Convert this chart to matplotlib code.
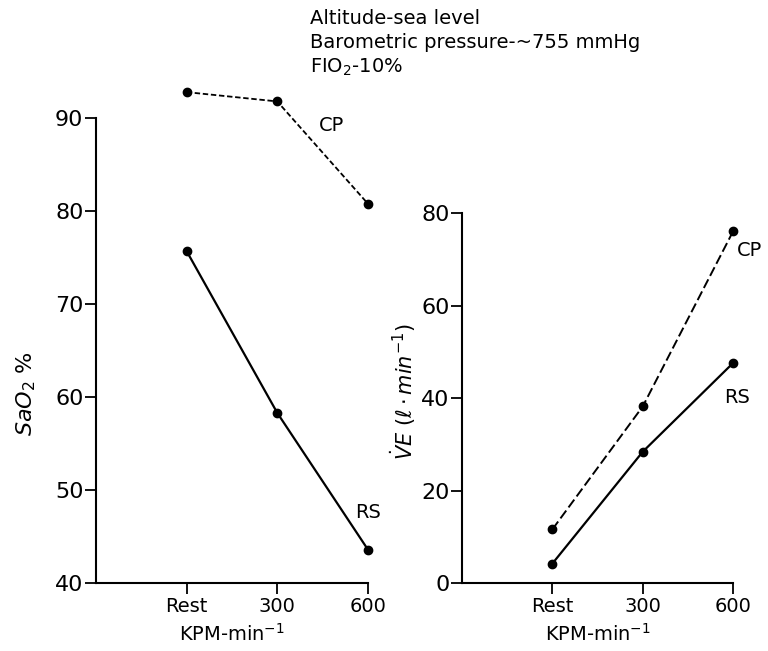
import matplotlib
matplotlib.use('Agg')
import matplotlib.pyplot as plt

plt.rcParams['font.family'] = ['DejaVu Sans']
plt.rcParams['mathtext.fontset'] = 'dejavusans'

levels = ['Rest', '300', '600']
sao2_cp = [92.8, 91.8, 80.8]
sao2_rs = [75.7, 58.3, 43.6]
ve_cp = [11.6, 38.2, 76.1]
ve_rs = [4.2, 28.4, 47.6]
xpos = [1, 2, 3]

fig = plt.figure(figsize=(7.68, 6.51), dpi=100)

ax1 = fig.add_axes([0.125, 0.1045, 0.354, 0.714])
ax2 = fig.add_axes([0.6016, 0.1045, 0.353, 0.568])

def style(ax, ylim, yticks):
    ax.set_xlim(0, 3)
    ax.set_ylim(*ylim)
    ax.set_yticks(yticks)
    ax.set_xticks(xpos)
    ax.set_xticklabels(levels, fontsize=14)
    ax.tick_params(axis='y', labelsize=16, length=8, width=1.3, direction='out', pad=1)
    ax.tick_params(axis='x', length=8, width=1.3, direction='out', pad=2)
    for s in ['top', 'right']:
        ax.spines[s].set_visible(False)
    for s in ['left', 'bottom']:
        ax.spines[s].set_linewidth(1.5)
    ax.set_xlabel(r'KPM-min$^{-1}$', fontsize=14, labelpad=5)

style(ax1, (40, 90), [40, 50, 60, 70, 80, 90])
style(ax2, (0, 80), [0, 20, 40, 60, 80])

ax1.plot(xpos, sao2_cp, color='black', lw=1.3, ls=(0, (3, 1.5)), marker='o', ms=6, clip_on=False)
ax1.plot(xpos, sao2_rs, color='black', lw=1.6, marker='o', ms=6, clip_on=False)
ax2.plot(xpos, ve_cp, color='black', lw=1.4, ls=(0, (5, 2)), marker='o', ms=6, clip_on=False)
ax2.plot(xpos, ve_rs, color='black', lw=1.6, marker='o', ms=6, clip_on=False)

ax1.text(2.6, 89.2, 'CP', fontsize=14, ha='center', va='center')
ax1.text(3.0, 47.6, 'RS', fontsize=14, ha='center', va='center')
ax2.text(3.18, 72.0, 'CP', fontsize=14, ha='center', va='center', clip_on=False)
ax2.text(3.04, 40.2, 'RS', fontsize=14, ha='center', va='center')

fig.text(0.034, 0.395, r'$SaO_2$ %', rotation=90, fontsize=16, ha='center', va='center')
fig.text(0.525, 0.398, r'$\dot{V}E\ (\ell\cdot min^{-1})$', rotation=90, fontsize=15,
         ha='center', va='center')

fig.text(0.404, 0.972, 'Altitude-sea level', fontsize=14, ha='left', va='center')
fig.text(0.404, 0.934, 'Barometric pressure-~755 mmHg', fontsize=14, ha='left', va='center')
fig.text(0.404, 0.896, r'FIO$_2$-10%', fontsize=14, ha='left', va='center')

fig.savefig('out.png', dpi=100)
